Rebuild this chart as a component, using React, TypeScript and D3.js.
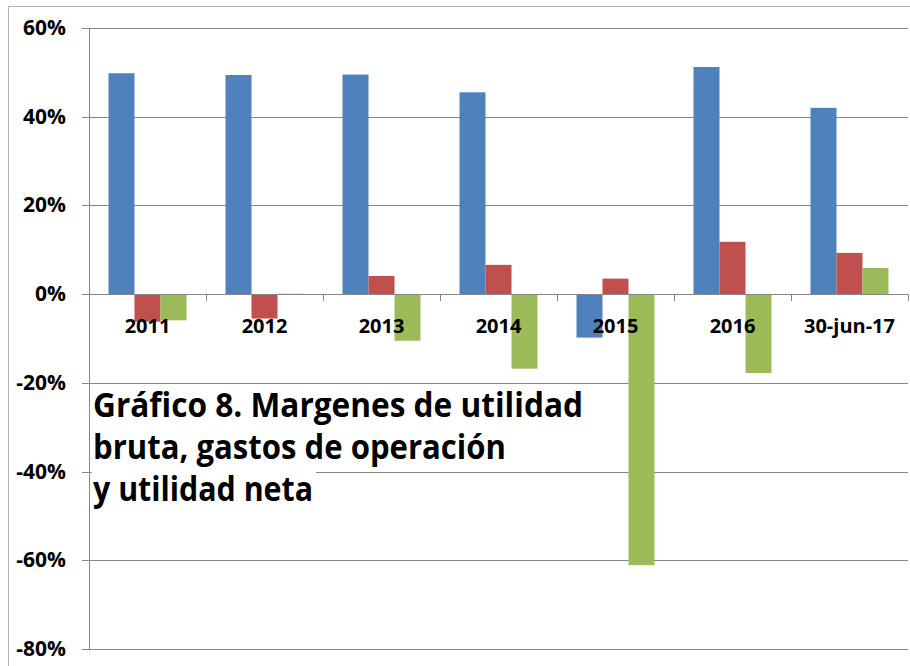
import React from 'react';
import * as d3 from 'd3';

// categories and series (percent values)
const categories = ['2011', '2012', '2013', '2014', '2015', '2016', '30-jun-17'];
const utilidadBruta = [49.8, 49.4, 49.5, 45.5, -9.8, 51.2, 42.0];
const gastosOperacion = [-6.2, -5.5, 4.1, 6.6, 3.5, 11.8, 9.3];
const utilidadNeta = [-5.9, 0.1, -10.5, -16.8, -61.1, -17.8, 5.9];
const yTicks = [-80, -60, -40, -20, 0, 20, 40, 60];
const titleLines = ['Gráfico 8. Margenes de utilidad', 'bruta, gastos de operación', 'y utilidad neta'];

const seriesNames = ['bruta', 'operacion', 'neta'];
const colors = ['#4F81BD', '#C0504D', '#9BBB59'];

export default function App() {
  const width = 910;
  const height = 666;
  const margin = { top: 28, right: 2, bottom: 17, left: 89 };

  const x0 = d3.scaleBand<string>()
    .domain(categories)
    .range([margin.left, width - margin.right])
    .paddingInner(0)
    .paddingOuter(0);

  // three bars per group, gap width 150%
  const x1 = d3.scaleBand<string>()
    .domain(seriesNames)
    .range([0, x0.bandwidth()])
    .paddingInner(0)
    .paddingOuter(0.75);

  const y = d3.scaleLinear()
    .domain([-80, 60])
    .range([height - margin.bottom, margin.top]);

  const table = categories.map((c, i) => ({
    category: c,
    values: [utilidadBruta[i], gastosOperacion[i], utilidadNeta[i]],
  }));

  const grid = '#878787';
  const font = "'Open Sans', 'DejaVu Sans', sans-serif";
  const titleWidths = [490, 413, 220];

  return (
    <div style={{ position: 'absolute', left: 0, top: 0 }}>
      <svg width={width} height={height} style={{ display: 'block', background: '#fff' }}>
        {/* outer chart border */}
        <line x1={8.5} x2={8.5} y1={6} y2={height} stroke="#b5b5b5" />
        <line x1={8} x2={width} y1={6.5} y2={6.5} stroke="#b5b5b5" />

        {/* gridlines + y ticks */}
        {yTicks.map(t => (
          <g key={t}>
            <line x1={margin.left - 7} x2={width - margin.right} y1={Math.round(y(t)) + 0.5} y2={Math.round(y(t)) + 0.5} stroke={grid} />
            <text x={66} y={y(t) + 7} textAnchor="end" fontFamily={font} fontWeight="bold" fontSize={21} fill="#000">
              {t + '%'}
            </text>
          </g>
        ))}
        <line x1={margin.left + 0.5} x2={margin.left + 0.5} y1={margin.top} y2={height - margin.bottom} stroke={grid} />

        {/* bars */}
        {table.map(d => (
          <g key={d.category} transform={`translate(${x0(d.category)},0)`}>
            {d.values.map((v, j) => (
              <rect
                key={seriesNames[j]}
                x={x1(seriesNames[j])}
                y={y(Math.max(0, v))}
                width={x1.bandwidth()}
                height={Math.abs(y(v) - y(0))}
                fill={colors[j]}
              />
            ))}
          </g>
        ))}

        {/* category axis at zero */}
        <line x1={margin.left} x2={width - margin.right} y1={Math.round(y(0)) + 0.5} y2={Math.round(y(0)) + 0.5} stroke={grid} />
        {categories.concat(['end']).map((c, i) => {
          const xx = i < categories.length ? (x0(c) as number) : x0.range()[1];
          return <line key={c} x1={Math.round(xx) + 0.5} x2={Math.round(xx) + 0.5} y1={y(0)} y2={y(0) + 7} stroke={grid} />;
        })}
        {categories.map(c => (
          <text key={c} x={(x0(c) as number) + x0.bandwidth() / 2} y={333} textAnchor="middle" fontFamily={font} fontWeight="bold" fontSize={20} fill="#000">
            {c}
          </text>
        ))}

        {/* title box */}
        {titleLines.map((line, i) => (
          <g key={line}>
            <rect x={92} y={388 + i * 42} width={titleWidths[i] + 4} height={42} fill="#fff" />
            <text x={93} y={417 + i * 42} fontFamily={font} fontWeight="bold" fontSize={34} fill="#000"
              textLength={titleWidths[i]} lengthAdjust="spacingAndGlyphs">
              {line}
            </text>
          </g>
        ))}
      </svg>
    </div>
  );
}
